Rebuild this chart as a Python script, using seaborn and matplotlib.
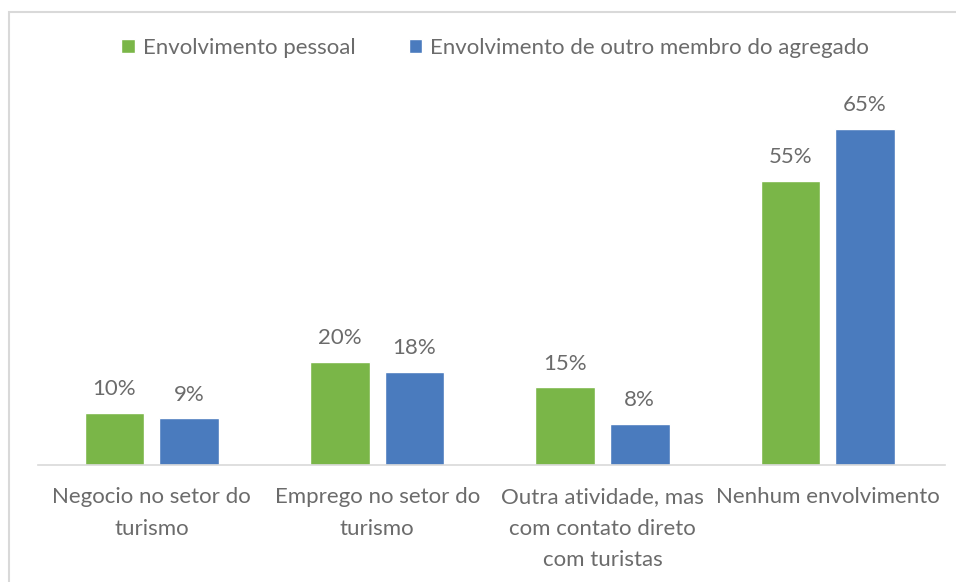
import pandas as pd
import matplotlib
matplotlib.use("Agg")
import matplotlib.pyplot as plt
import seaborn as sns
from matplotlib.patches import Rectangle

categories = ["Negocio no setor do\nturismo",
              "Emprego no setor do\nturismo",
              "Outra atividade, mas\ncom contato direto\ncom turistas",
              "Nenhum envolvimento"]
series = ["Envolvimento pessoal", "Envolvimento de outro membro do agregado"]
pessoal = [10, 20, 15, 55]
outro_membro = [9, 18, 8, 65]

df = pd.DataFrame({
    "categoria": categories * 2,
    "serie": [series[0]] * 4 + [series[1]] * 4,
    "valor": pessoal + outro_membro,
})

sns.set_theme(style="white")
plt.rcParams["font.family"] = ["Lato", "DejaVu Sans"]
grey = "#6b6b6b"

fig = plt.figure(figsize=(9.56, 5.82), dpi=100)
ax = fig.add_axes([38 / 956, 117 / 582, 907 / 956, (582 - 117 - 103) / 582])

sns.barplot(data=df, x="categoria", y="valor", hue="serie",
            palette=["#7AB648", "#4A7BBE"], width=0.662, gap=0.2,
            saturation=1, ax=ax)

for cont in ax.containers:
    ax.bar_label(cont, fmt="%d%%", padding=10, color=grey, fontsize=16)

ax.set_ylim(0, 70)
ax.set_xlim(-0.505, 3.52)
ax.set_yticks([])
ax.set_xticks(range(len(categories)))
ax.set_xticklabels(categories, linespacing=1.72)
ax.set_xlabel("")
ax.set_ylabel("")
for s in ["top", "right", "left"]:
    ax.spines[s].set_visible(False)
ax.spines["bottom"].set_color("#d9d9d9")
ax.spines["bottom"].set_linewidth(1.2)
ax.tick_params(axis="x", length=0, pad=16, labelsize=16, labelcolor=grey)

ax.legend(loc="center", bbox_to_anchor=(495 / 956, 1 - 48 / 582),
          bbox_transform=fig.transFigure, ncol=2, frameon=False,
          handlelength=0.6, handleheight=0.6, handletextpad=0.35,
          columnspacing=2.4, fontsize=16, labelcolor=grey)

fig.patches.append(Rectangle((9 / 956, -0.1), 2, 1 - 12 / 582 + 0.1,
                             transform=fig.transFigure, fill=False,
                             edgecolor="#d9d9d9", linewidth=1.5))

fig.savefig("out.png", dpi=100)
